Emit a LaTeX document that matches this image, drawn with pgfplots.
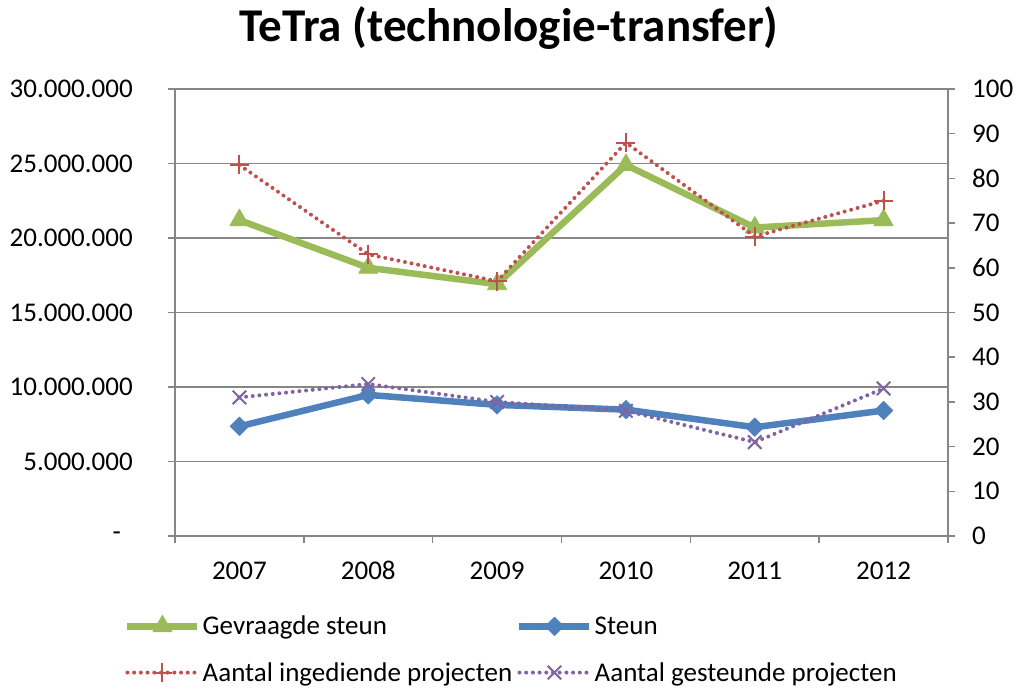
\documentclass[border=0pt]{standalone}
\usepackage{pgfplots}
\pgfplotsset{compat=1.18}
\usepackage{fontspec}
\setmainfont{Carlito}
\definecolor{cgreen}{HTML}{9BBB59}
\definecolor{cblue}{HTML}{4F81BD}
\definecolor{cred}{HTML}{C0504D}
\definecolor{cpurple}{HTML}{8064A2}
\definecolor{axgray}{HTML}{868686}
\pgfplotsset{
  greenstyle/.style={color=cgreen, line width=6.5pt, line join=round, mark=triangle*, mark size=11pt, mark options={solid, line width=0.8pt}},
  bluestyle/.style={color=cblue, line width=6.5pt, line join=round, mark=square*, mark size=6.5pt, mark options={solid, rotate=45, line width=0.8pt}},
  redstyle/.style={color=cred, line width=4pt, line cap=round, dash pattern=on 0pt off 6.7pt, mark=+, mark size=9.5pt, mark options={solid, line width=2pt, line cap=butt}},
  purplestyle/.style={color=cpurple, line width=4pt, line cap=round, dash pattern=on 0pt off 6.7pt, mark=x, mark size=9.5pt, mark options={solid, line width=2pt, line cap=butt}},
  commonaxis/.style={
    width=773pt, height=447pt, scale only axis,
    xmin=-0.5, xmax=5.5,
    tick align=outside,
    major tick length=7pt, minor tick length=7pt,
    axis line style={axgray, line width=1.5pt, -},
    tick style={axgray, line width=1.5pt},
    ticklabel style={font=\fontsize{27}{31}\selectfont, text=black, inner sep=0pt},
    /pgf/number format/assume math mode=true,
  }
}
\begin{document}
\begin{tikzpicture}[x=1pt,y=1pt]
\path[use as bounding box] (-175,-155) rectangle (842,536);
\begin{axis}[commonaxis,
  ymin=0, ymax=30000000,
  axis y line*=left, axis x line*=bottom,
  xtick={0,1,2,3,4,5}, xticklabels={2007,2008,2009,2010,2011,2012},
  minor xtick={-0.5,0.5,1.5,2.5,3.5,4.5,5.5},
  major x tick style={draw=none},
  ytick={0,5000000,10000000,15000000,20000000,25000000,30000000},
  yticklabels={{-\hspace{12pt}\mbox{}},5.000.000,10.000.000,15.000.000,20.000.000,25.000.000,30.000.000},
  scaled y ticks=false,
  ymajorgrids, major grid style={color=axgray, line width=1.5pt},
  xticklabel style={anchor=base, yshift=-36pt},
  yticklabel style={anchor=east, xshift=-35pt},
]
\addplot[greenstyle] coordinates {(0,21200000) (1,18000000) (2,16900000) (3,24900000) (4,20700000) (5,21200000)};
\addplot[bluestyle] coordinates {(0,7360000) (1,9470000) (2,8800000) (3,8480000) (4,7300000) (5,8420000)};
\end{axis}
\begin{axis}[commonaxis,
  ymin=0, ymax=100,
  axis y line*=right, axis x line=none,
  ytick={0,10,20,30,40,50,60,70,80,90,100},
  yticklabel style={anchor=west, xshift=17pt},
  legend style={at={(-0.0660,-0.1745)}, anchor=north west, draw=none, fill=none, inner sep=0pt,
    font=\fontsize{27}{31}\selectfont, row sep=22pt,
    /tikz/every even column/.append style={column sep=2pt}},
  legend columns=2,
  legend cell align=left,
  legend image code/.code={\draw[mark repeat=2,mark phase=2,#1] plot coordinates {(0pt,0pt) (35pt,0pt) (70pt,0pt)};},
]
\addlegendimage{greenstyle}
\addlegendimage{bluestyle}
\addplot[redstyle] coordinates {(0,83) (1,63) (2,57) (3,88) (4,67) (5,75)};
\addplot[purplestyle] coordinates {(0,31) (1,34) (2,30) (3,28) (4,21) (5,33)};
\legend{Gevraagde steun, Steun, Aantal ingediende projecten, Aantal gesteunde projecten}
\end{axis}
\node[font=\bfseries\fontsize{47}{50}\selectfont, anchor=base] at (334,494) {TeTra (technologie-transfer)};
\end{tikzpicture}
\end{document}
